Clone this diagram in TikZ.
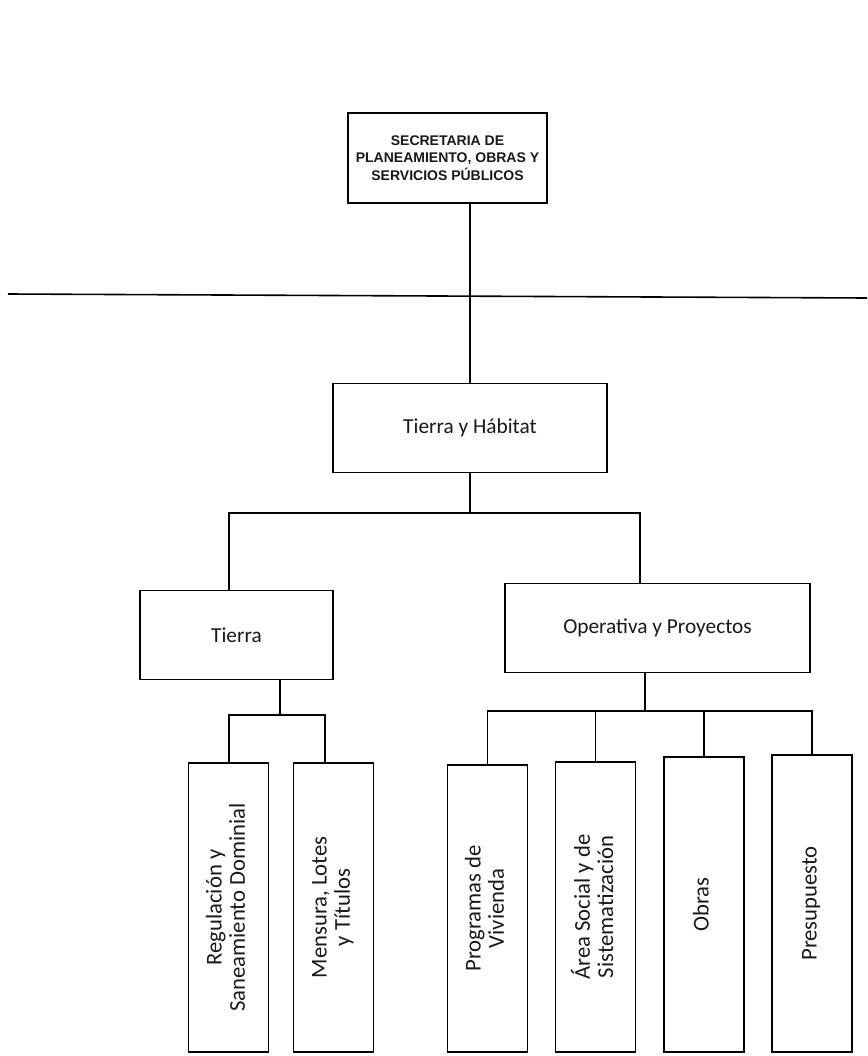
\documentclass[tikz,border=0pt]{standalone}
\usepackage{fontspec}
\setmainfont{Carlito}
\newfontfamily\capsfont{Liberation Sans}
\usetikzlibrary{positioning}

\newcommand{\vlabel}[1]{\rotatebox{90}{\fontsize{17}{17.5}\selectfont\begin{tabular}{@{}c@{}}#1\end{tabular}}}

\begin{document}
\begin{tikzpicture}[
    x=0.75pt, y=-0.75pt,
    every node/.style={font=\fontsize{16}{20}\selectfont, text=black!90},
    orgbox/.style={draw, line width=1.2pt, inner sep=0pt, align=center, fill=white},
    topbox/.style={orgbox, minimum width=149pt, minimum height=67.5pt, font=\capsfont\bfseries\fontsize{10.5}{13}\selectfont},
    midbox/.style={orgbox, minimum height=67pt},
    unitbox/.style={orgbox, minimum width=60pt},
    link/.style={line width=1.2pt}
]
\fill[white] (0,0) rectangle (867,1056);
\useasboundingbox (0,0) rectangle (867,1056);

% Secretaria
\node[topbox] (sec) at (447.5,158) {SECRETARIA DE\\PLANEAMIENTO, OBRAS Y\\SERVICIOS PÚBLICOS};

% page rule
\coordinate (rule-l) at (8,294);
\coordinate (rule-r) at (867,298);
\draw[link] (rule-l) -- (rule-r);

% Tierra y Habitat
\node[midbox, minimum width=205.5pt] (hab) at (470,428) {Tierra y Hábitat};
\draw[link] (sec.south -| hab.north) -- (hab.north);

% second level
\node[midbox, minimum width=145pt] (tierra) at (236.5,635) {Tierra};
\node[midbox, minimum width=229pt] (oper) at (657.5,628) {Operativa y Proyectos};
\coordinate (busA-l) at (229,513);
\coordinate (busA-r) at (640,513);
\draw[link] (hab.south) -- (hab.south |- busA-l);
\draw[link] (busA-l |- tierra.north) -- (busA-l) -- (busA-r) -- (busA-r |- oper.north);

% Tierra units
\node[unitbox, minimum height=217pt] (reg) at (228.5,907.5) {\vlabel{Regulación y\\Saneamiento Dominial}};
\node[unitbox, minimum height=217pt] (mens) at (333.5,907.5) {\vlabel{Mensura, Lotes\\y Títulos}};
\coordinate (busB) at (280,715);
\coordinate (busB-l) at (229,715);
\coordinate (busB-r) at (325,715);
\draw[link] (busB |- tierra.south) -- (busB);
\draw[link] (busB-l |- reg.north) -- (busB-l) -- (busB-r) -- (busB-r |- mens.north);

% Operativa units
\node[unitbox, minimum height=215pt] (prog) at (487.5,908.5) {\vlabel{Programas de\\Vivienda}};
\node[unitbox, minimum height=217.5pt] (area) at (595.5,907) {\vlabel{Área Social y de\\Sistematización}};
\node[unitbox, minimum height=221pt] (obras) at (704,904.5) {\vlabel{Obras}};
\node[unitbox, minimum height=223pt] (pres) at (812,903.5) {\vlabel{Presupuesto}};
\coordinate (busC) at (645,711);
\draw[link] (busC |- oper.south) -- (busC);
\draw[link] (prog.north) |- (busC) -| (pres.north);
\draw[link] (area.north) -- (area.north |- busC);
\draw[link] (obras.north) -- (obras.north |- busC);
\end{tikzpicture}
\end{document}
